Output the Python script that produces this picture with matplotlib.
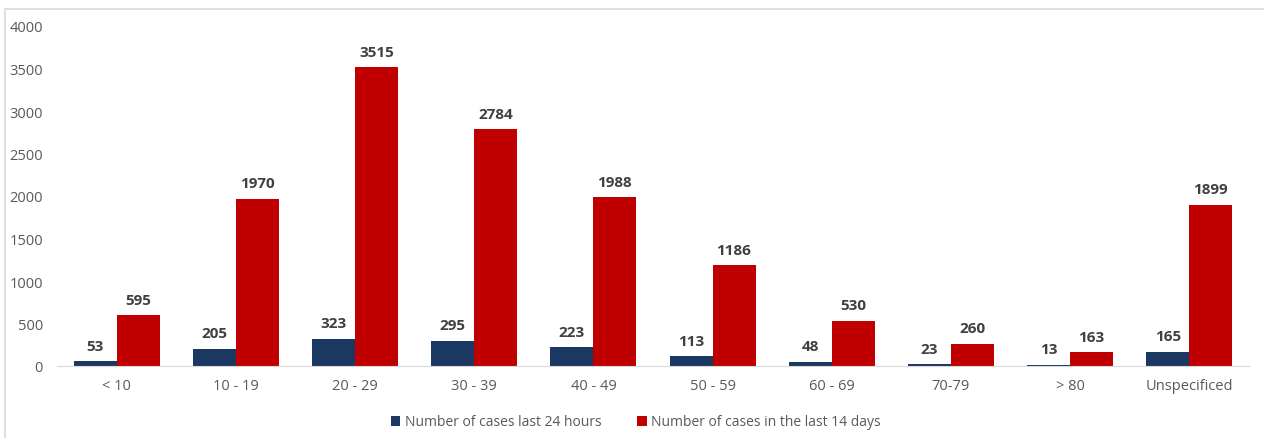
import numpy as np
import matplotlib.pyplot as plt
from matplotlib.patches import Rectangle

categories = ['< 10', '10 - 19', '20 - 29', '30 - 39', '40 - 49', '50 - 59', '60 - 69', '70-79', '> 80', 'Unspecificed']
last_24h = [53, 205, 323, 295, 223, 113, 48, 23, 13, 165]
last_14d = [595, 1970, 3515, 2784, 1988, 1186, 530, 260, 163, 1899]

navy = '#1B3862'
red = '#C00000'
grey = '#595959'

plt.rcParams['font.family'] = ['Open Sans', 'DejaVu Sans']

fig = plt.figure(figsize=(12.64, 4.39), dpi=100)
fig.patches.append(Rectangle((5/1264, -0.1), 1.2, 0.1 + (439-10)/439, transform=fig.transFigure,
                             fill=False, edgecolor='#D9D9D9', linewidth=1.2))
ax = fig.add_axes([57/1264, (439-367)/439, 1192/1264, 340/439])

x = np.arange(len(categories))
w = 0.36
b1 = ax.bar(x - w/2, last_24h, w, color=navy, label='Number of cases last 24 hours')
b2 = ax.bar(x + w/2, last_14d, w, color=red, label='Number of cases in the last 14 days')

for bars in (b1, b2):
    for r in bars:
        ax.text(r.get_x() + r.get_width()/2, r.get_height() + 100, str(int(r.get_height())),
                ha='center', va='bottom', fontsize=11, fontweight='bold', color='#404040')

ax.set_xlim(-0.5, len(categories) - 0.5)
ax.set_ylim(0, 4000)
ax.set_yticks(range(0, 4001, 500))
ax.set_xticks(x)
ax.set_xticklabels(categories)
ax.tick_params(axis='both', length=0, colors=grey, labelsize=10.5)
ax.tick_params(axis='x', pad=9)
ax.tick_params(axis='y', pad=10)
for s in ['top', 'right', 'left']:
    ax.spines[s].set_visible(False)
ax.spines['bottom'].set_color('#D9D9D9')

fig.legend(handles=[b1, b2], loc='center', bbox_to_anchor=(0.503, (439-423)/439), ncol=2,
           frameon=False, fontsize=10, handlelength=0.7, handleheight=0.7, handletextpad=0.3,
           columnspacing=2.6, labelcolor=grey)

fig.savefig('out.png', dpi=100)
